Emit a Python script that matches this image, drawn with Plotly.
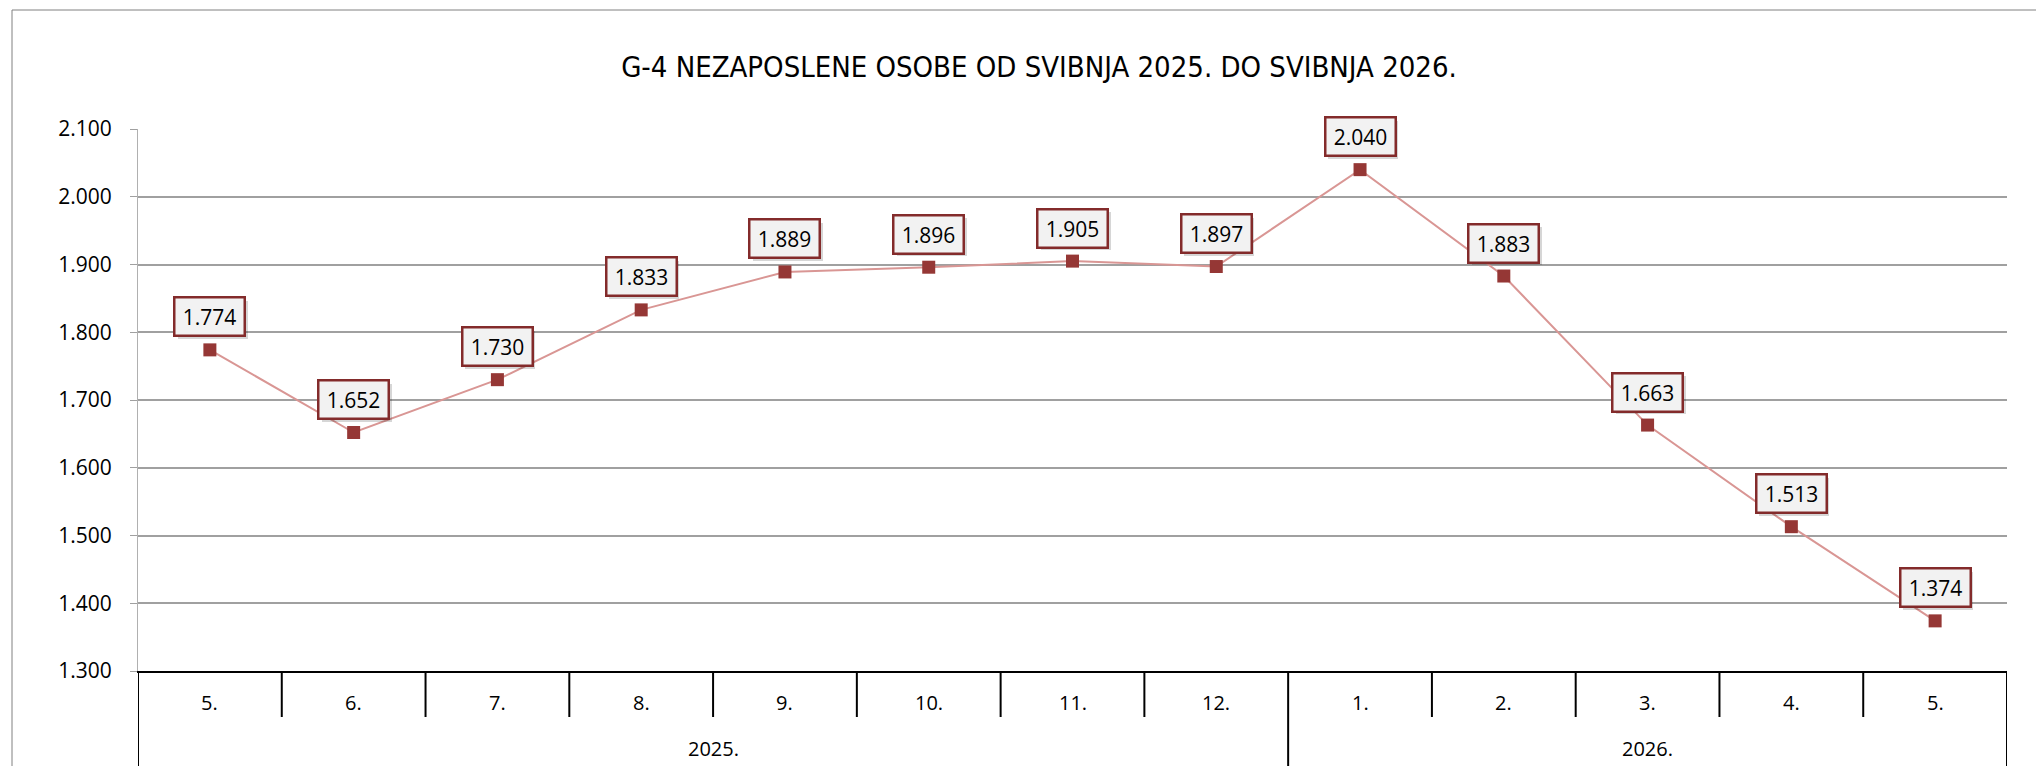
import plotly.graph_objects as go

# ---- data ----
months = ["5.", "6.", "7.", "8.", "9.", "10.", "11.", "12.", "1.", "2.", "3.", "4.", "5."]
years = ["2025."] * 8 + ["2026."] * 5
values = [1774, 1652, 1730, 1833, 1889, 1896, 1905, 1897, 2040, 1883, 1663, 1513, 1374]
y_ticks = [1300, 1400, 1500, 1600, 1700, 1800, 1900, 2000, 2100]
title_text = "G-4 NEZAPOSLENE OSOBE OD SVIBNJA 2025. DO SVIBNJA 2026."

W, H = 2036, 766
ML, MR, MT, MB = 138, 29, 129, 95
PW, PH = W - ML - MR, H - MT - MB

def px_y(py):  # pixel y (from top) -> paper y
    return 1 - (py - MT) / PH

def px_x(px):
    return (px - ML) / PW

LABEL_FONT = "Open Sans, Liberation Sans, Arial, sans-serif"
TITLE_FONT = "Liberation Sans Narrow, Arial Narrow, DejaVu Sans Condensed, sans-serif"

xs = list(range(len(values)))

fig = go.Figure()
fig.add_trace(go.Scatter(
    x=xs, y=values, mode="lines+markers",
    line=dict(color="#D99694", width=2),
    marker=dict(symbol="square", size=13, color="#953735"),
    cliponaxis=False, hoverinfo="skip", showlegend=False,
))

shapes = []
# outer frame
shapes.append(dict(type="rect", xref="paper", yref="paper",
                   x0=px_x(12), x1=px_x(2060), y0=px_y(790), y1=px_y(10),
                   line=dict(color="#808080", width=1), fillcolor="rgba(0,0,0,0)", layer="below"))
# category dividers
group_bounds = set()
for i in range(len(years) + 1):
    if i == 0 or i == len(years) or years[i] != years[i - 1]:
        group_bounds.add(i)
for i in range(len(months) + 1):
    full = i in group_bounds
    shapes.append(dict(type="line", xref="x", yref="paper",
                       x0=i - 0.5, x1=i - 0.5, y0=0,
                       y1=px_y(790) if full else px_y(717),
                       line=dict(color="black", width=2)))

annotations = []
# month labels
for i, m in enumerate(months):
    annotations.append(dict(x=i, y=px_y(702), xref="x", yref="paper", text=m,
                            showarrow=False, yanchor="middle",
                            font=dict(family=LABEL_FONT, size=20, color="black")))
# year labels
seen = []
for yv in years:
    if yv not in seen:
        seen.append(yv)
for yv in seen:
    idx = [i for i, v in enumerate(years) if v == yv]
    annotations.append(dict(x=(idx[0] + idx[-1]) / 2, y=px_y(748), xref="x", yref="paper",
                            text=yv, showarrow=False, yanchor="middle",
                            font=dict(family=LABEL_FONT, size=20, color="black")))
# data labels (shadow + box)
for i, v in enumerate(values):
    txt = f"{v:,}".replace(",", ".")
    annotations.append(dict(x=i, y=v, xref="x", yref="y", text=txt, showarrow=False,
                            yshift=30, xshift=3, width=64, height=32, borderpad=2,
                            bgcolor="rgba(0,0,0,0.16)", bordercolor="rgba(0,0,0,0)", borderwidth=2,
                            font=dict(family=LABEL_FONT, size=21, color="rgba(0,0,0,0)")))
    annotations.append(dict(x=i, y=v, xref="x", yref="y", text=txt, showarrow=False,
                            yshift=33, width=64, height=32, borderpad=2,
                            bgcolor="#F2F2F2", bordercolor="#832B2B", borderwidth=2.5,
                            font=dict(family=LABEL_FONT, size=21, color="black")))

fig.update_layout(
    width=W, height=H,
    margin=dict(l=ML, r=MR, t=MT, b=MB, pad=0),
    paper_bgcolor="white", plot_bgcolor="white",
    separators=",.",
    title=dict(text=title_text, x=px_x(1039), xref="paper", xanchor="center",
               y=1 - 67 / H, yref="container", yanchor="middle",
               font=dict(family=TITLE_FONT, size=29, color="black")),
    xaxis=dict(range=[-0.5, len(months) - 0.5], showticklabels=False, showgrid=False,
               zeroline=False, showline=True, linecolor="black", linewidth=2, ticks=""),
    yaxis=dict(range=[y_ticks[0], y_ticks[-1]], tickvals=y_ticks, tickformat=",d",
               showgrid=True, gridcolor="#A0A0A0", gridwidth=2, zeroline=False,
               showline=True, linecolor="#B0B0B0", linewidth=1,
               ticks="outside", ticklen=7, tickcolor="#A0A0A0", tickwidth=1,
               ticklabelstandoff=14,
               tickfont=dict(family=LABEL_FONT, size=21, color="black")),
    shapes=shapes, annotations=annotations,
)

fig.write_html("out.html", config={"displayModeBar": False},
               post_script="document.body.style.margin='0';document.body.style.overflow='hidden';")
